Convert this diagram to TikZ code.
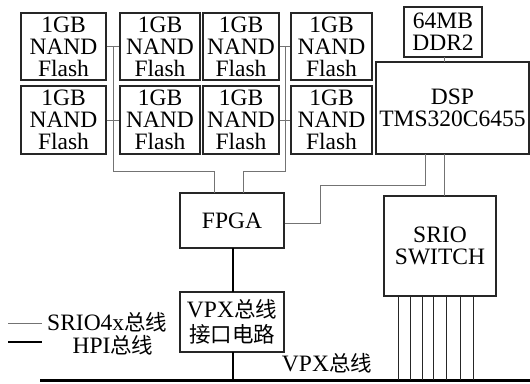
\documentclass[tikz,border=0pt]{standalone}
\usepackage{fontspec}
\setmainfont{Liberation Serif}
\newfontfamily\tnr{Liberation Serif}
\newfontfamily\cjk{Noto Sans CJK SC}
\begin{document}
\begin{tikzpicture}[x=1pt,y=-1pt,
  box/.style={draw=black!85,line width=1.1pt,inner sep=0pt,align=center,
    font=\tnr\fontsize{23.5}{22}\selectfont},
  sig/.style={draw=black!55,line width=0.9pt},
  thinblk/.style={draw=black!85,line width=0.9pt},
  hpi/.style={draw=black,line width=2.2pt},
  bus/.style={draw=black,line width=3pt},
  lbl/.style={inner sep=0pt,font=\tnr\fontsize{23.5}{22}\selectfont}]
\useasboundingbox (0,0) rectangle (530,383);
% flash boxes
\node[box,minimum width=85pt,minimum height=67pt] (f11) at (63.5,46.5) {1GB\\NAND\\Flash};
\node[box,minimum width=85pt,minimum height=68pt] (f21) at (63.5,120) {1GB\\NAND\\Flash};
\node[box,minimum width=80pt,minimum height=67pt] (f12) at (160,46.5) {1GB\\NAND\\Flash};
\node[box,minimum width=80pt,minimum height=68pt] (f22) at (160,120) {1GB\\NAND\\Flash};
\node[box,minimum width=76pt,minimum height=67pt] (f13) at (241,46.5) {1GB\\NAND\\Flash};
\node[box,minimum width=76pt,minimum height=68pt] (f23) at (241,120) {1GB\\NAND\\Flash};
\node[box,minimum width=81pt,minimum height=67pt] (f14) at (331.5,46.5) {1GB\\NAND\\Flash};
\node[box,minimum width=81pt,minimum height=68pt] (f24) at (331.5,120) {1GB\\NAND\\Flash};
% DDR and DSP
\node[box,minimum width=78pt,minimum height=50pt] (ddr) at (443,32) {64MB\\DDR2};
\node[box,minimum width=153pt,minimum height=92pt] (dsp) at (452.5,108) {DSP\\TMS320C6455};
% FPGA, VPX interface, switch
\node[box,minimum width=104pt,minimum height=55pt] (fpga) at (232,220.5) {FPGA};
\node[box,minimum width=104pt,minimum height=60pt,font=\tnr\fontsize{23.5}{25}\selectfont] (vpx) at (232,322)
  {VPX{\cjk\fontsize{21.5}{25}\selectfont 总线}\\{\cjk\fontsize{21.5}{25}\selectfont 接口电路}};
\node[box,minimum width=112pt,minimum height=100pt] (sw) at (440,246) {SRIO\\SWITCH};
% flash links
\draw[sig] (f11.east) -- (f12.west);
\draw[sig] (f21.east) -- (f22.west);
\draw[sig] (f13.east) -- (f14.west);
\draw[sig] (f23.east) -- (f24.west);
\coordinate (la) at (113,46.5);
\coordinate (ra) at (285,46.5);
\draw[sig] (la) -- (113,171) -- (214,171) -- (214,193);
\draw[sig] (ra) -- (285,171) -- (243,171) -- (243,193);
% FPGA to DSP
\draw[sig] (fpga.east |- 0,223) -- (320,223) -- (320,185) -- (425,185) -- (425,154);
% DDR to DSP, DSP to switch
\draw[sig] (444,57) -- (444,62);
\draw[sig] (444,154) -- (444,196);
% HPI
\draw[hpi] (233,248) -- (233,292);
\draw[hpi] (233,352) -- (233,380);
% bus
\coordinate (busL) at (40,380);
\coordinate (busR) at (530,380);
\draw[bus] (busL) -- (busR);
% switch legs
\foreach \x in {398,410,422,433,446,460,473}
  \draw[thinblk] (\x,296) -- (\x,380);
% legend
\draw[sig] (8,323) -- (42,323);
\draw[hpi,line width=1.6pt] (8,342) -- (42,342);
\node[lbl,anchor=west] (l1) at (47,322) {SRIO4x{\cjk\fontsize{21.5}{22}\selectfont 总线}};
\node[lbl] (l2) at (113,345) {HPI{\cjk\fontsize{21.5}{22}\selectfont 总线}};
\node[lbl] (l3) at (327,363) {VPX{\cjk\fontsize{21.5}{22}\selectfont 总线}};
\end{tikzpicture}
\end{document}
